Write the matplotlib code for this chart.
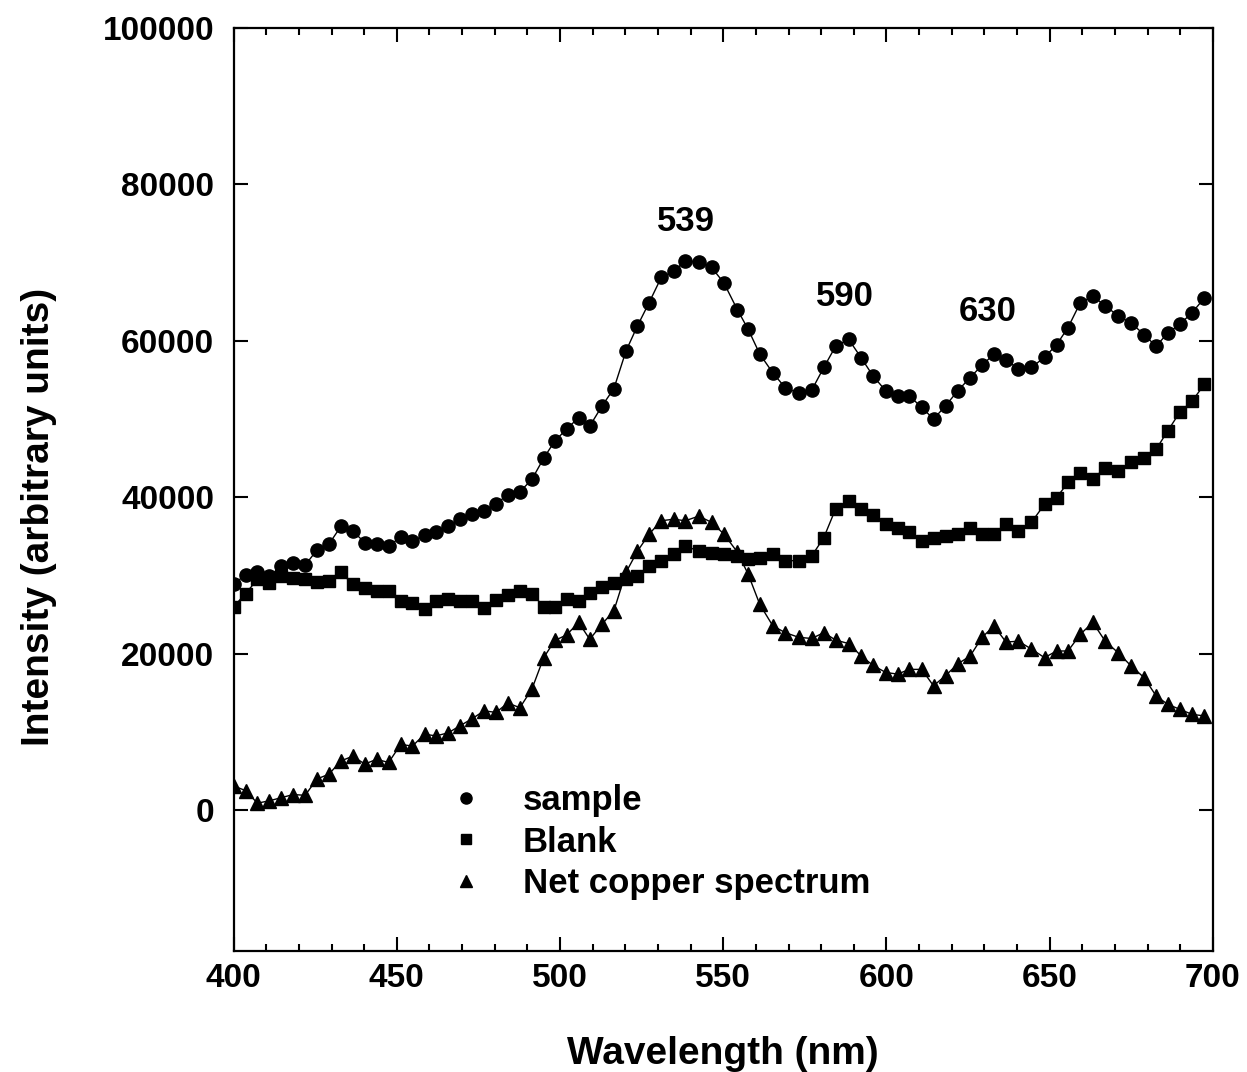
import matplotlib
matplotlib.use("Agg")
import matplotlib.pyplot as plt
from matplotlib.lines import Line2D
from matplotlib.ticker import MultipleLocator

plt.rcParams['font.family'] = ['Liberation Sans', 'DejaVu Sans']

wavelength = [400.0, 403.7, 407.3, 411.0, 414.6, 418.3, 421.9, 425.6, 429.2, 432.9,
              436.5, 440.2, 443.8, 447.5, 451.2, 454.8, 458.5, 462.1, 465.8, 469.4,
              473.1, 476.7, 480.4, 484.0, 487.7, 491.4, 495.0, 498.4, 502.0, 505.7,
              509.1, 512.9, 516.5, 520.2, 523.7, 527.3, 531.0, 534.8, 538.4, 542.5,
              546.4, 550.2, 554.3, 557.6, 561.2, 565.2, 569.0, 573.1, 577.1, 580.8,
              584.4, 588.4, 592.3, 595.9, 599.8, 603.4, 607.0, 610.8, 614.4, 618.1,
              621.8, 625.6, 629.3, 632.9, 636.6, 640.4, 644.4, 648.4, 652.1, 655.6,
              659.4, 663.2, 667.0, 670.9, 674.9, 678.9, 682.6, 686.1, 689.8, 693.6,
              697.4]

sample = [28900, 30100, 30400, 29900, 31200, 31600, 31300, 33300, 34000, 36300,
          35700, 34200, 34000, 33800, 34900, 34400, 35150, 35600, 36300, 37200,
          37900, 38300, 39200, 40300, 40700, 42300, 45000, 47200, 48700, 50200,
          49100, 51700, 53900, 58700, 61900, 64900, 68100, 68900, 70200, 70100,
          69400, 67400, 64000, 61500, 58300, 55900, 54000, 53300, 53700, 56600,
          59300, 60200, 57800, 55500, 53600, 52950, 52950, 51500, 50000, 51700,
          53600, 55300, 56900, 58300, 57600, 56400, 56600, 57900, 59500, 61700,
          64900, 65700, 64500, 63200, 62300, 60800, 59300, 61000, 62100, 63600,
          65500]

blank = [26000, 27700, 29500, 29100, 30000, 29700, 29500, 29200, 29300, 30400,
         28900, 28400, 28000, 28000, 26800, 26500, 25700, 26800, 27000, 26800,
         26700, 25900, 26900, 27500, 28000, 27700, 26000, 26000, 27000, 26750,
         27800, 28500, 29100, 29500, 29900, 31200, 31900, 32700, 33800, 33100,
         32900, 32700, 32500, 32100, 32300, 32800, 31900, 31900, 32500, 34850,
         38500, 39500, 38500, 37800, 36550, 36100, 35500, 34400, 34850, 35050,
         35300, 36100, 35300, 35300, 36550, 35700, 36800, 39100, 39950, 41900,
         43150, 42300, 43800, 43350, 44450, 45050, 46150, 48450, 50850, 52300,
         54450]

net_copper = [3100, 2500, 900, 1200, 1600, 2000, 1900, 4000, 4600, 6300,
              6900, 5900, 6500, 6100, 8400, 8200, 9700, 9500, 9900, 10800,
              11700, 12700, 12500, 13700, 13100, 15500, 19500, 21700, 22400, 24000,
              21850, 23800, 25500, 30400, 33100, 35300, 37000, 37200, 37000, 37600,
              36800, 35300, 33000, 30200, 26300, 23550, 22700, 22100, 21950, 22700,
              21750, 21300, 19700, 18500, 17600, 17400, 18000, 18000, 15900, 17200,
              18700, 19700, 22100, 23550, 21500, 21600, 20600, 19500, 20350, 20350,
              22500, 24000, 21600, 20150, 18450, 16950, 14600, 13550, 12900, 12250,
              12050]

peak_labels = ['539', '590', '630']
peak_x = [538.5, 587.2, 631.0]
peak_y = [75300, 65700, 63800]

fig = plt.figure(figsize=(12.47, 10.72), dpi=100)
ax = fig.add_axes([0.1873, 0.1129, 0.7854, 0.861])

ax.plot(wavelength, sample, color='black', lw=1.0, marker='o', markersize=9.5)
ax.plot(wavelength, blank, color='black', lw=1.0, marker='s', markersize=8.5)
ax.plot(wavelength, net_copper, color='black', lw=1.0, marker='^', markersize=9.5)

for lab, x, y in zip(peak_labels, peak_x, peak_y):
    ax.text(x, y, lab, fontsize=25, fontweight='bold', ha='center', va='center')

ax.set_xlim(400, 700)
ax.set_ylim(-18000, 100000)
ax.xaxis.set_major_locator(MultipleLocator(50))
ax.xaxis.set_minor_locator(MultipleLocator(10))
ax.yaxis.set_major_locator(MultipleLocator(20000))

ax.tick_params(which='both', direction='in', top=True, right=True, width=1.5)
ax.tick_params(which='major', length=10)
ax.tick_params(which='minor', length=5)
ax.tick_params(axis='x', labelsize=24, pad=9)
ax.tick_params(axis='y', labelsize=24, pad=14)
for t in ax.get_xticklabels() + ax.get_yticklabels():
    t.set_fontweight('bold')
for s in ax.spines.values():
    s.set_linewidth(1.6)

ax.set_xlabel('Wavelength (nm)', fontsize=28, fontweight='bold', labelpad=30)
ax.set_ylabel('Intensity (arbitrary units)', fontsize=28, fontweight='bold')
ax.yaxis.set_label_coords(-0.18, 0.47)

handles = [Line2D([], [], color='black', marker='o', linestyle='none', markersize=8),
           Line2D([], [], color='black', marker='s', linestyle='none', markersize=7),
           Line2D([], [], color='black', marker='^', linestyle='none', markersize=8)]
ax.legend(handles, ['sample', 'Blank', 'Net copper spectrum'],
          loc='upper left', bbox_to_anchor=(0.22, 0.181), frameon=False,
          prop={'size': 25, 'weight': 'bold'}, handlelength=1.0,
          handletextpad=1.12, labelspacing=0.25, borderaxespad=0, borderpad=0)

fig.savefig('out.png', dpi=100)
